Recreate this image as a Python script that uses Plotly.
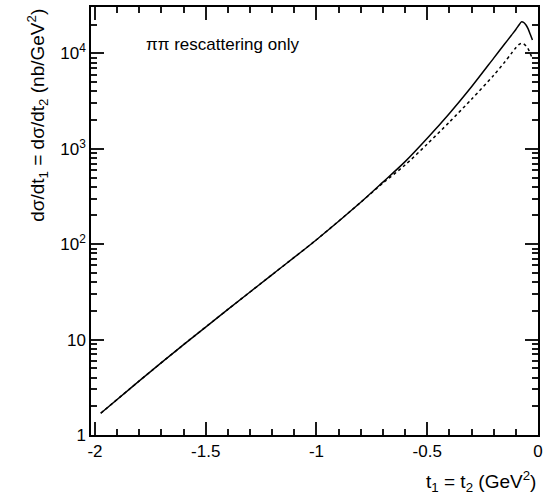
import plotly.graph_objects as go

# t1 = t2 (GeV^2), full result (solid)
t_full = [-1.974, -1.8, -1.6, -1.4, -1.2, -1.0, -0.8, -0.7, -0.6, -0.5, -0.4, -0.3,
          -0.2, -0.15, -0.12, -0.1, -0.085, -0.075, -0.065, -0.055, -0.045, -0.035, -0.025]
xs_full = [1.69, 3.69, 8.85, 20.7, 48.0, 111.4, 275, 447, 733, 1288, 2344, 4467,
           8913, 12590, 15490, 17780, 19950, 21380, 21130, 19950, 18200, 15850, 13800]

# dashed curve
t_dash = [-1.974, -1.8, -1.6, -1.4, -1.2, -1.0, -0.8, -0.7, -0.6, -0.5, -0.4, -0.3,
          -0.2, -0.15, -0.12, -0.1, -0.085, -0.075, -0.065, -0.055, -0.045, -0.035, -0.029]
xs_dash = [1.69, 3.69, 8.85, 20.7, 48.0, 111.4, 275, 437, 676, 1122, 1905, 3311,
           5888, 8128, 10000, 11480, 12450, 12740, 12590, 12020, 11220, 10000, 9247]

x_tickvals = [-2, -1.5, -1, -0.5, 0]
x_ticktext = ["-2", "-1.5", "-1", "-0.5", "0"]
y_tickvals = [1, 10, 100, 1000, 10000]
y_ticktext = ["1", "10", "10<sup>2</sup>", "10<sup>3</sup>", "10<sup>4</sup>"]

X_RANGE = [-2.018, 0]
Y_RANGE = [0, 4.486]
FONT = "Liberation Sans, Arial, Helvetica, sans-serif"
INK = "#000000"
TICK = "#1a1a1a"

fig = go.Figure()
fig.add_trace(go.Scatter(x=t_full, y=xs_full, mode="lines",
                         line=dict(color=INK, width=1.5, shape="spline", smoothing=0.8),
                         showlegend=False))
fig.add_trace(go.Scatter(x=t_dash, y=xs_dash, mode="lines",
                         line=dict(color=INK, width=1.5, dash="3px,3px", shape="spline", smoothing=0.8),
                         showlegend=False))

common = dict(ticks="inside", tickwidth=1.5, tickcolor=TICK, showline=True,
              linecolor=INK, linewidth=1.5, mirror="allticks")

fig.update_layout(
    width=560, height=500,
    margin=dict(l=91, r=22, t=5, b=65),
    paper_bgcolor="white", plot_bgcolor="white",
    font=dict(family=FONT, size=17, color=INK),
    xaxis=dict(range=X_RANGE, tickmode="array", tickvals=x_tickvals, ticktext=x_ticktext,
               ticklen=13, tickfont=dict(size=17), showgrid=False, zeroline=False,
               minor=dict(ticks="inside", ticklen=6, tickwidth=1.5, tickcolor=TICK, dtick=0.1),
               **common),
    yaxis=dict(type="log", range=Y_RANGE, tickmode="array", tickvals=y_tickvals,
               ticktext=y_ticktext, ticklen=13, tickfont=dict(size=17), showgrid=False,
               minor=dict(ticks="inside", ticklen=6, tickwidth=1.5, tickcolor=TICK, dtick="D1"),
               **common),
)

fig.add_annotation(text="d\u03c3/dt<sub>1</sub> = d\u03c3/dt<sub>2</sub> (nb/GeV<sup>2</sup>)",
                   xref="paper", yref="paper", x=-0.12, y=1.0, xanchor="center", yanchor="top",
                   textangle=-90, showarrow=False, font=dict(size=19))
fig.add_annotation(text="t<sub>1</sub> = t<sub>2</sub> (GeV<sup>2</sup>)",
                   xref="paper", yref="paper", x=1.0, y=-0.072, xanchor="right", yanchor="top",
                   showarrow=False, font=dict(size=19))
fig.add_annotation(text="\u03c0\u03c0 rescattering only",
                   xref="paper", yref="paper", x=0.118, y=0.912, xanchor="left", yanchor="middle",
                   showarrow=False, font=dict(size=17))

fig.write_html("out.html")
